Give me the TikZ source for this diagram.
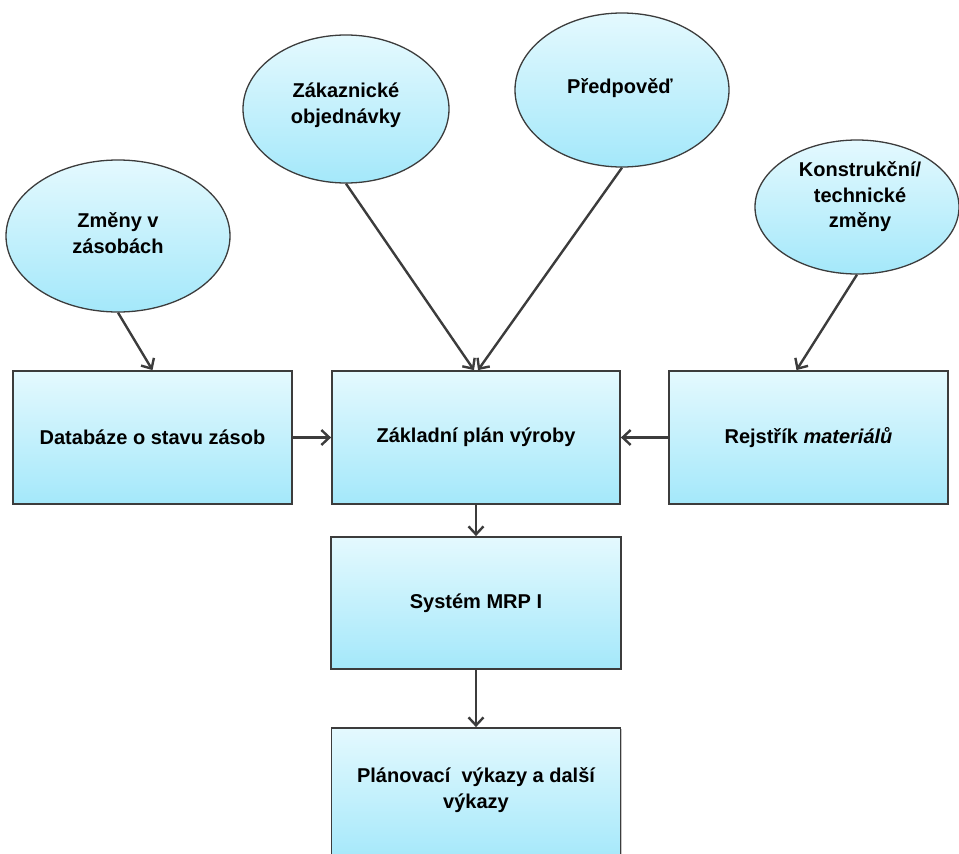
\documentclass[tikz,border=0pt]{standalone}
\usepackage{fontspec}
\setmainfont{Liberation Sans}
\usetikzlibrary{arrows.meta,shapes.geometric,shadows}

\definecolor{edgegray}{HTML}{3C3C3C}
\definecolor{filltop}{HTML}{E4F9FE}
\definecolor{fillbot}{HTML}{A4E8FA}

\tikzset{
  lbl/.style={font=\bfseries\fontsize{20}{25.5}\selectfont, align=center, text=black},
  boxnode/.style={lbl, draw=edgegray, line width=1.8pt, rectangle,
    top color=filltop, bottom color=fillbot, inner sep=0pt,
    drop shadow={shadow xshift=1.2pt, shadow yshift=-1.2pt, opacity=0.45}},
  ellnode/.style={lbl, draw=edgegray, line width=1.3pt, ellipse,
    top color=filltop, bottom color=fillbot, inner sep=0pt},
  flow/.style={draw=edgegray, line width=2.4pt,
    -{Straight Barb[length=8pt,width=15pt,line width=2.4pt]}}
}

\begin{document}
\begin{tikzpicture}[x=1pt,y=1pt]
\useasboundingbox (0,0) rectangle (959,-854);

% input ellipses
\node[ellnode, minimum width=224, minimum height=152] (zmeny) at (118,-236) {};
\node[lbl] (zmenyT) at (118,-233) {Změny v\\zásobách};

\node[ellnode, minimum width=206, minimum height=148] (zak) at (346,-109) {};
\node[lbl] (zakT) at (346,-105) {Zákaznické\\objednávky};

\node[ellnode, minimum width=214, minimum height=154] (pred) at (622,-90) {};
\node[lbl] (predT) at (620,-88) {Předpověď};

\node[ellnode, minimum width=204, minimum height=134] (kon) at (857,-207) {};
\node[lbl] (konT) at (860,-197) {Konstrukční/\\technické\\změny};

% process boxes
\node[boxnode, minimum width=279, minimum height=133] (db) at (152.5,-437.5) {Databáze o stavu zásob};
\node[boxnode, minimum width=288, minimum height=133] (zpv) at (476,-437.5) {Základní plán výroby};
\node[boxnode, minimum width=279, minimum height=133] (rej) at (808.5,-437.5) {Rejstřík \textit{materiálů}};
\node[boxnode, minimum width=290, minimum height=132] (mrp) at (476,-603) {Systém MRP I};
\node[boxnode, minimum width=289, minimum height=134] (plan) at (476,-795) {};
\node[lbl] (planT) at (476,-790) {Plánovací\ \ výkazy a další\\výkazy};

% connectors
\coordinate (rejIn) at ([xshift=-12pt]rej.north);
\draw[flow] (zmeny.south) -- (db.north);
\draw[flow] (zak.south) -- ([xshift=-2pt]zpv.north);
\draw[flow] (pred.south) -- ([xshift=2pt]zpv.north);
\draw[flow] (kon.south) -- (rejIn);
\draw[flow] (db.east) -- (zpv.west);
\draw[flow] (rej.west) -- (zpv.east);
\draw[flow] (zpv.south) -- (mrp.north);
\draw[flow] (mrp.south) -- (plan.north);
\end{tikzpicture}
\end{document}
